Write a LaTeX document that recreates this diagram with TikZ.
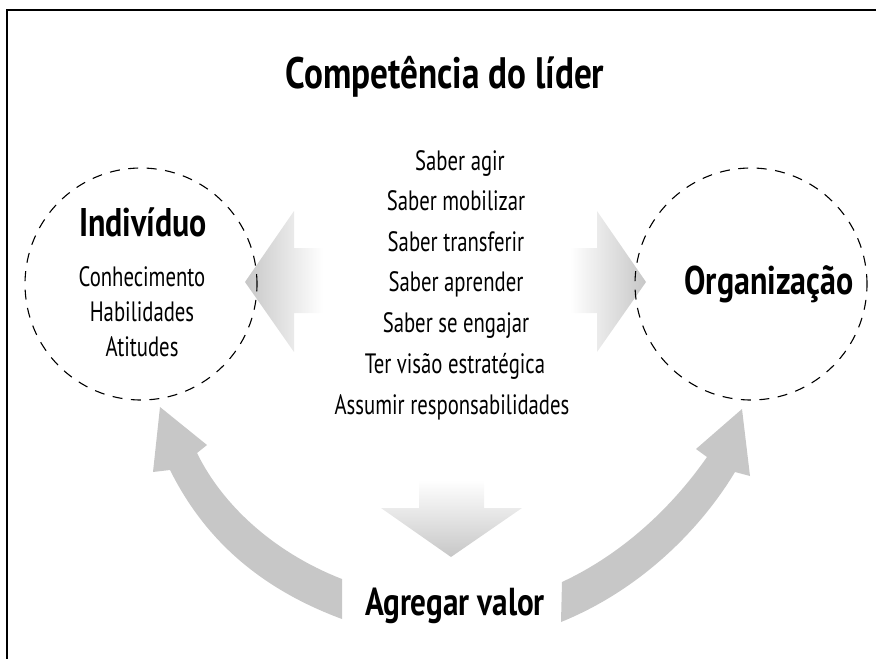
\documentclass[tikz,border=0pt]{standalone}
\usepackage{fontspec}
\setmainfont{PT Sans}[FakeStretch=0.74]
\newfontfamily\boldcond{PT Sans Bold}[FakeStretch=0.8]
\begin{document}
\begin{tikzpicture}[x=1pt,y=-1pt,
  txt/.style={inner sep=0pt, anchor=base, font=\fontsize{28}{32}\selectfont},
  bold/.style={inner sep=0pt, anchor=base, font=\fontsize{40}{44}\boldcond},
  ring/.style={circle, draw=black, dash pattern=on 10pt off 8.5pt, line width=1.1pt, minimum size=232pt, inner sep=0pt},
  bigarrow/.style={fill=black!22, draw=none}]
\useasboundingbox (0,0) rectangle (876,659);
\draw[line width=1.8pt] (7,659) -- (7,10) -- (876,10);

% gradient arrows
\shade[left color=black!22, right color=white] (245,282) -- (294,211) -- (294,248) -- (323,248) -- (323,313) -- (294,313) -- (294,352) -- cycle;
\shade[left color=white, right color=black!22] (646,282) -- (597,211) -- (597,248) -- (570,248) -- (570,313) -- (597,313) -- (597,352) -- cycle;
\shade[top color=white, bottom color=black!22] (451,557) -- (381,508) -- (419,508) -- (419,480) -- (484,480) -- (484,508) -- (522,508) -- cycle;

% circles
\node[ring] (ind) at (141,284) {};
\node[ring] (org) at (751,284) {};

% curved arrows
\fill[bigarrow] (342,579) -- (342,619) .. controls (250,585) and (200,530) .. (170,470)
  -- (153,472) -- (160,407) -- (207,445) -- (197,453)
  .. controls (225,510) and (280,555) .. (342,579) -- cycle;
\fill[bigarrow] (562,582) -- (561,622) .. controls (640,590) and (700,530) .. (735,472)
  -- (750,476) -- (742,409) -- (696,449) -- (707,457)
  .. controls (670,510) and (620,555) .. (562,582) -- cycle;

% texts
\node[bold, font=\fontsize{44}{48}\boldcond] (title) at (445,88) {Competência do líder};
\node[bold] (indt) at (143,236) {Indivíduo};
\node[txt] (c1) at (142,286) {Conhecimento};
\node[txt] (c2) at (142,321) {Habilidades};
\node[txt] (c3) at (142,356) {Atitudes};
\node[bold] (orgt) at (769,294) {Organização};
\node[txt] (s1) at (460,170) {Saber agir};
\node[txt] (s2) at (456,210) {Saber mobilizar};
\node[txt] (s3) at (456,251) {Saber transferir};
\node[txt] (s4) at (456,291) {Saber aprender};
\node[txt] (s5) at (456,332) {Saber se engajar};
\node[txt] (s6) at (455,373) {Ter visão estratégica};
\node[txt] (s7) at (452,414) {Assumir responsabilidades};
\node[bold, font=\fontsize{39}{43}\boldcond] (agr) at (455,615) {Agregar valor};
\end{tikzpicture}
\end{document}
